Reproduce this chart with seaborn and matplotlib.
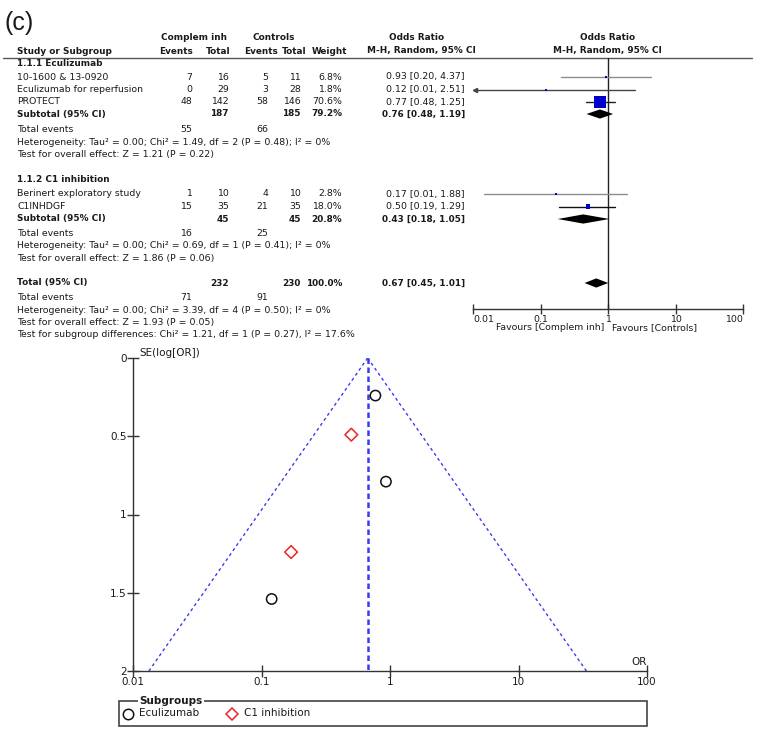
import numpy as np
import matplotlib
matplotlib.use("Agg")
import matplotlib.pyplot as plt
import seaborn as sns
from matplotlib.patches import Rectangle
from matplotlib.ticker import NullLocator

sns.set_theme(style="white")
plt.rcParams['font.family'] = ['DejaVu Sans']

# ---------------- data ----------------
studies = ["10-1600 & 13-0920", "Eculizumab for reperfusion", "PROTECT",
           "Berinert exploratory study", "C1INHDGF"]
subgroups = ["Eculizumab", "Eculizumab", "Eculizumab", "C1 inhibition", "C1 inhibition"]
group_titles = ["1.1.1 Eculizumab", "1.1.2 C1 inhibition"]
exp_events = [7, 0, 48, 1, 15]
exp_total = [16, 29, 142, 10, 35]
ctl_events = [5, 3, 58, 4, 21]
ctl_total = [11, 28, 146, 10, 35]
weight = [6.8, 1.8, 70.6, 2.8, 18.0]
odds_ratio = [0.93, 0.12, 0.77, 0.17, 0.50]
ci_low = [0.20, 0.006, 0.48, 0.0148, 0.19]
ci_high = [4.37, 2.51, 1.25, 1.88, 1.29]
se_log_or = [0.79, 1.54, 0.24, 1.24, 0.49]

sub_exp_total = [187, 45]
sub_ctl_total = [185, 45]
sub_weight = [79.2, 20.8]
sub_or = [0.76, 0.43]
sub_low = [0.48, 0.18]
sub_high = [1.19, 1.05]
sub_exp_events = [55, 16]
sub_ctl_events = [66, 25]
sub_het = ["Heterogeneity: Tau² = 0.00; Chi² = 1.49, df = 2 (P = 0.48); I² = 0%",
           "Heterogeneity: Tau² = 0.00; Chi² = 0.69, df = 1 (P = 0.41); I² = 0%"]
sub_test = ["Test for overall effect: Z = 1.21 (P = 0.22)",
            "Test for overall effect: Z = 1.86 (P = 0.06)"]

total_exp_total = 232
total_ctl_total = 230
total_weight = 100.0
total_or = 0.67
total_low = 0.45
total_high = 1.01
total_exp_events = 71
total_ctl_events = 91
total_het = "Heterogeneity: Tau² = 0.00; Chi² = 3.39, df = 4 (P = 0.50); I² = 0%"
total_test = "Test for overall effect: Z = 1.93 (P = 0.05)"
subgroup_test = "Test for subgroup differences: Chi² = 1.21, df = 1 (P = 0.27), I² = 17.6%"

or_ticks = [0.01, 0.1, 1, 10, 100]
or_tick_labels = ["0.01", "0.1", "1", "10", "100"]
se_ticks = [0, 0.5, 1, 1.5, 2]
se_tick_labels = ["0", "0.5", "1", "1.5", "2"]

# ---------------- layout (pixels) ----------------
W, H = 763, 736
fig = plt.figure(figsize=(W / 100, H / 100), dpi=100)
fig.patch.set_facecolor("white")


def px_axes(x0, y0, x1, y1):
    return fig.add_axes([x0 / W, 1 - y1 / H, (x1 - x0) / W, (y1 - y0) / H])


base = fig.add_axes([0, 0, 1, 1])
base.set_xlim(0, W)
base.set_ylim(H, 0)
base.axis("off")

fs = 6.75
fsb = 6.4
TXT = "#1a1a1a"

X_NAME, X_EE, X_ET, X_CE, X_CT, X_W, X_OR = 17, 192, 229, 268, 301, 342, 465

row_study_y = [77, 89.5, 102, 194, 206.5]
row_group_y = [63.5, 180]
row_sub_y = [114, 219]
row_events_y = [130, 233]
row_het_y = [142.5, 245.5]
row_test_y = [155, 258]
row_total_y = 283
row_total_events_y = 298
row_total_het_y = 310.5
row_total_test_y = 322.5
row_subgroup_test_y = 334.5


def t(x, y, s, ha="left", bold=False, size=None, **kw):
    base.text(x, y, s, ha=ha, va="center", color=TXT,
              fontsize=size if size else (fsb if bold else fs),
              fontweight="bold" if bold else "normal", **kw)


# title
base.text(4, 23, "(c)", fontsize=18, va="center", ha="left", color=TXT,
          family=["Liberation Sans"])

# headers
t(194, 38, "Complem inh", ha="center", bold=True)
t(274, 38, "Controls", ha="center", bold=True)
t(417, 38, "Odds Ratio", ha="center", bold=True)
t(608, 38, "Odds Ratio", ha="center", bold=True)
t(X_NAME, 51, "Study or Subgroup", bold=True)
t(193, 51, "Events", ha="right", bold=True)
t(231, 51, "Total", ha="right", bold=True)
t(278, 51, "Events", ha="right", bold=True)
t(306, 51, "Total", ha="right", bold=True)
t(347, 51, "Weight", ha="right", bold=True)
t(421, 51, "M-H, Random, 95% CI", ha="center", bold=True)
t(607, 51, "M-H, Random, 95% CI", ha="center", bold=True)
base.plot([3, 752], [58, 58], color="#555555", lw=1)

sub_idx = [[0, 1, 2], [3, 4]]
for g in range(2):
    t(X_NAME, row_group_y[g], group_titles[g], bold=True)
    for i in sub_idx[g]:
        y = row_study_y[i]
        t(X_NAME, y, studies[i])
        t(X_EE, y, f"{exp_events[i]}", ha="right")
        t(X_ET, y, f"{exp_total[i]}", ha="right")
        t(X_CE, y, f"{ctl_events[i]}", ha="right")
        t(X_CT, y, f"{ctl_total[i]}", ha="right")
        t(X_W, y, f"{weight[i]:.1f}%", ha="right")
        t(X_OR, y, f"{odds_ratio[i]:.2f} [{ci_low[i]:.2f}, {ci_high[i]:.2f}]", ha="right")
    y = row_sub_y[g]
    t(X_NAME, y, "Subtotal (95% CI)", bold=True)
    t(X_ET, y, f"{sub_exp_total[g]}", ha="right", bold=True)
    t(X_CT, y, f"{sub_ctl_total[g]}", ha="right", bold=True)
    t(X_W, y, f"{sub_weight[g]:.1f}%", ha="right", bold=True)
    t(X_OR, y, f"{sub_or[g]:.2f} [{sub_low[g]:.2f}, {sub_high[g]:.2f}]", ha="right", bold=True)
    t(X_NAME, row_events_y[g], "Total events")
    t(X_EE, row_events_y[g], f"{sub_exp_events[g]}", ha="right")
    t(X_CE, row_events_y[g], f"{sub_ctl_events[g]}", ha="right")
    t(X_NAME, row_het_y[g], sub_het[g])
    t(X_NAME, row_test_y[g], sub_test[g])

y = row_total_y
t(X_NAME, y, "Total (95% CI)", bold=True)
t(X_ET, y, f"{total_exp_total}", ha="right", bold=True)
t(X_CT, y, f"{total_ctl_total}", ha="right", bold=True)
t(X_W, y, f"{total_weight:.1f}%", ha="right", bold=True)
t(X_OR, y, f"{total_or:.2f} [{total_low:.2f}, {total_high:.2f}]", ha="right", bold=True)
t(X_NAME, row_total_events_y, "Total events")
t(X_EE, row_total_events_y, f"{total_exp_events}", ha="right")
t(X_CE, row_total_events_y, f"{total_ctl_events}", ha="right")
t(X_NAME, row_total_het_y, total_het)
t(X_NAME, row_total_test_y, total_test)
t(X_NAME, row_subgroup_test_y, subgroup_test)

# ---------------- forest plot ----------------
fo = px_axes(473, 58, 743, 309)
fo.patch.set_alpha(0)
fo.set_xscale("log")
ci_colors = ["#8c8c8c", "#444444", "#222222", "#8c8c8c", "#111111"]
for i in range(len(studies)):
    lo = max(ci_low[i], 0.0106)
    fo.plot([lo, ci_high[i]], [row_study_y[i]] * 2, color=ci_colors[i], lw=1, zorder=2)
    if ci_low[i] < 0.01:
        fo.plot([lo], [row_study_y[i]], marker="<", ms=3, color=ci_colors[i], zorder=2)
side_px = np.clip(12 * (np.array(weight) / max(weight)) ** 0.75, 2, None)
sns.scatterplot(x=odds_ratio, y=row_study_y, s=(side_px * 0.72) ** 2, marker="s",
                color="#0000cc", linewidth=0, ax=fo, zorder=3, legend=False)
for yy, o, lo, hi in zip(row_sub_y + [row_total_y], sub_or + [total_or],
                         sub_low + [total_low], sub_high + [total_high]):
    fo.fill([lo, o, hi, o], [yy, yy - 4.6, yy, yy + 4.6], color="black", lw=0, zorder=3)
fo.axvline(1, color="#222222", lw=1, zorder=1)
fo.set_xlim(0.01, 100)
fo.set_ylim(309, 58)
for s in ["top", "right", "left"]:
    fo.spines[s].set_visible(False)
fo.spines["bottom"].set_color("#333333")
fo.spines["bottom"].set_linewidth(1)
fo.set_xticks(or_ticks)
fo.set_xticklabels(or_tick_labels)
fo.xaxis.set_minor_locator(NullLocator())
fo.set_yticks([])
fo.tick_params(axis="x", bottom=True, direction="inout", length=7, width=1,
               colors="#333333", labelsize=6.75, pad=0.5, labelcolor=TXT)
labs = fo.get_xticklabels()
labs[0].set_horizontalalignment("left")
labs[-1].set_horizontalalignment("right")
fo.set_xlabel("")
fo.set_ylabel("")
t(604, 328, "Favours [Complem inh]", ha="right")
t(612, 328, "Favours [Controls]", ha="left")

# ---------------- funnel plot ----------------
fun = px_axes(133, 358, 647, 671)
fun.patch.set_alpha(0)
fun.set_xscale("log")
se_edge = np.array([0.0, se_ticks[-1]])
fun.plot(total_or * np.exp(-1.96 * se_edge), se_edge, color="#3b3bf0", lw=1,
         dashes=(2.2, 2.2), zorder=1)
fun.plot(total_or * np.exp(1.96 * se_edge), se_edge, color="#3b3bf0", lw=1,
         dashes=(2.2, 2.2), zorder=1)
fun.plot([total_or, total_or], se_edge, color="#3b3bf0", lw=1.8, dashes=(2.2, 1.4), zorder=1)

styles = {"Eculizumab": ("o", "#111111", 55), "C1 inhibition": ("D", "#e8262a", 42)}
for grp, (mk, colr, sz) in styles.items():
    xs = [o for o, g in zip(odds_ratio, subgroups) if g == grp]
    ys = [s for s, g in zip(se_log_or, subgroups) if g == grp]
    sns.scatterplot(x=xs, y=ys, marker=mk, s=sz, color=colr, ax=fun, legend=False, zorder=3)
    coll = fun.collections[-1]
    coll.set_facecolor("none")
    coll.set_edgecolor(colr)
    coll.set_linewidth(1.1)

fun.set_xlim(0.01, 100)
fun.set_ylim(2, 0)
fun.spines["top"].set_visible(False)
fun.spines["right"].set_visible(False)
for s in ["left", "bottom"]:
    fun.spines[s].set_color("#333333")
    fun.spines[s].set_linewidth(1)
fun.set_xticks(or_ticks)
fun.set_xticklabels(or_tick_labels)
fun.xaxis.set_minor_locator(NullLocator())
fun.set_yticks(se_ticks)
fun.set_yticklabels(se_tick_labels)
fun.tick_params(axis="both", bottom=True, left=True, direction="inout", length=8, width=1,
                colors="#333333", labelsize=7.5, pad=0.5, labelcolor=TXT)
fun.set_xlabel("")
fun.set_ylabel("")
base.text(139, 353, "SE(log[OR])", fontsize=7.5, ha="left", va="center", color=TXT)
base.text(647, 662, "OR", fontsize=7.5, ha="right", va="center", color=TXT)

# legend box
base.add_patch(Rectangle((119, 701), 528, 25, fill=False, edgecolor="#444444", lw=1.2))
base.text(139, 701, "Subgroups", fontsize=7.5, fontweight="bold", ha="left", va="center",
          color=TXT, bbox=dict(facecolor="white", edgecolor="none", pad=1.0))
base.plot([128], [713.5], marker="o", ms=7.5, mfc="none", mec="#111111", mew=1.1)
t(139, 713.5, "Eculizumab", size=7.5)
base.plot([232], [713.5], marker="D", ms=6.5, mfc="none", mec="#e8262a", mew=1.1)
t(244, 713.5, "C1 inhibition", size=7.5)

fig.savefig("out.png", dpi=100, facecolor="white")
